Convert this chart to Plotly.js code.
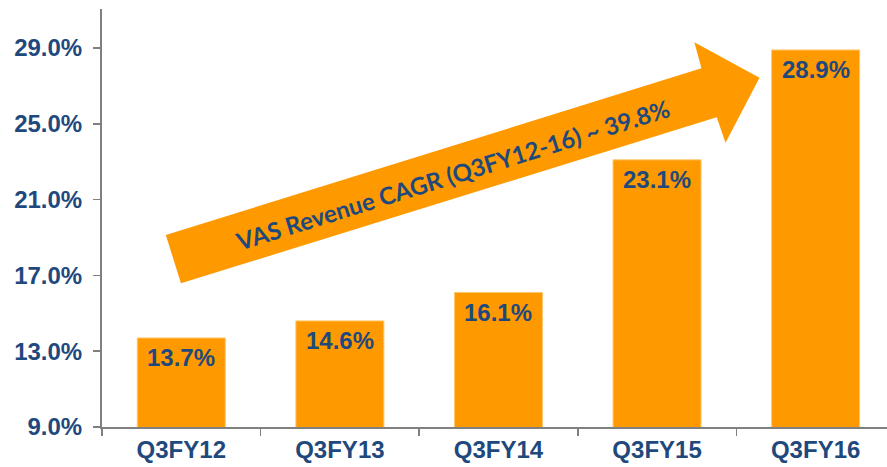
<!DOCTYPE html>
<html>
<head>
<meta charset="utf-8">
<script src="https://cdn.plot.ly/plotly-3.0.1.min.js"></script>
<style>html,body{margin:0;padding:0;background:#fff;}#chart{width:887px;height:467px;}</style>
</head>
<body>
<div id="chart"></div>
<script>
const categories = ["Q3FY12", "Q3FY13", "Q3FY14", "Q3FY15", "Q3FY16"];
const vasShare = [13.7, 14.6, 16.1, 23.1, 28.9];
const barLabels = ["13.7%", "14.6%", "16.1%", "23.1%", "28.9%"];
const yTickValues = [9, 13, 17, 21, 25, 29];
const yTickLabels = ["9.0%", "13.0%", "17.0%", "21.0%", "25.0%", "29.0%"];
const arrowText = "VAS Revenue CAGR (Q3FY12-16) ~ 39.8%";

const blue = "#1F497D";
const orange = "#FF9900";
const axisFont = {family: "Liberation Sans, Arial, sans-serif", size: 24, color: blue, weight: "bold"};

const trace = {
  type: "bar",
  x: categories,
  y: vasShare,
  marker: {color: orange, line: {color: "#FFC870", width: 1}},
  hoverinfo: "none"
};

const labelAnnotations = categories.map((c, i) => ({
  x: c, y: vasShare[i], xref: "x", yref: "y",
  text: "<b>" + barLabels[i] + "</b>",
  showarrow: false, xanchor: "center", yanchor: "middle", yshift: -20,
  font: {family: "Liberation Sans, Arial, sans-serif", size: 24, color: blue}
}));

// arrow in paper coordinates
const arrowPath = "M0.0813,0.4593 L0.7636,0.8581 L0.7546,0.9203 L0.8376,0.8356 L0.7943,0.6801 L0.7831,0.7409 L0.1006,0.3438 Z";

const layout = {
  width: 887, height: 467,
  margin: {l: 102, r: 0, t: 9, b: 40, pad: 0},
  paper_bgcolor: "#fff", plot_bgcolor: "#fff",
  showlegend: false,
  bargap: 0.445,
  xaxis: {
    type: "category",
    range: [-0.5, 4.45],
    showline: true, linecolor: "#808080", linewidth: 2,
    ticks: "outside", tickson: "boundaries", ticklen: 7, tickcolor: "#808080", tickwidth: 1.5,
    showgrid: false, zeroline: false,
    tickfont: axisFont
  },
  yaxis: {
    range: [9, 31.06],
    tickmode: "array",
    tickvals: yTickValues,
    ticktext: yTickLabels,
    showline: true, linecolor: "#808080", linewidth: 2,
    ticks: "outside", ticklen: 7, tickcolor: "#808080", tickwidth: 1.5,
    showgrid: false, zeroline: false,
    ticklabelstandoff: 6,
    tickfont: axisFont
  },
  shapes: [{
    type: "path", xref: "paper", yref: "paper",
    path: arrowPath,
    fillcolor: orange, line: {width: 0}, layer: "above"
  }],
  annotations: labelAnnotations.concat([{
    x: 0.447, y: 0.603, xref: "paper", yref: "paper",
    text: "<b>" + arrowText + "</b>",
    textangle: -17.3, showarrow: false,
    xanchor: "center", yanchor: "middle",
    font: {family: "Lato, sans-serif", size: 24, color: blue}
  }])
};

Plotly.newPlot("chart", [trace], layout, {staticPlot: true, displayModeBar: false});
</script>
</body>
</html>
